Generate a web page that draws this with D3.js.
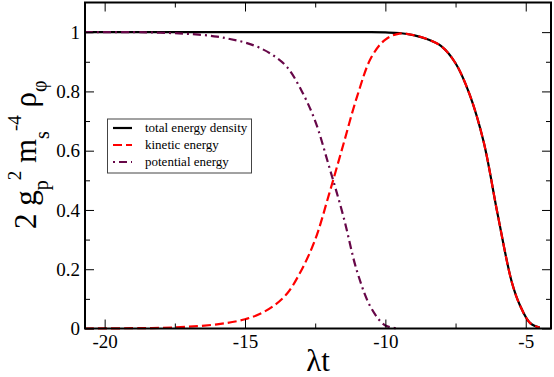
<!DOCTYPE html>
<html><head><meta charset="utf-8">
<script src="https://cdn.jsdelivr.net/npm/d3@7"></script>
<style>
body{margin:0;background:#fff}
text, tspan { font-family: "Liberation Serif", "Tinos", "FreeSerif", serif !important; }
</style>
</head><body>
<script>
const xTicks = [-20, -15, -10, -5];
const xMinor = [-17.5, -12.5, -7.5];
const yTicks = [0, 0.2, 0.4, 0.6, 0.8, 1];
const yTickLabels = ["0", "0.2", "0.4", "0.6", "0.8", "1"];
const yMinor = [0.1, 0.3, 0.5, 0.7, 0.9];

const totalX = [-20.7, -20, -18, -16, -14, -12, -10.5, -10, -9.5, -9, -8.5, -8, -7.5, -7, -6.5, -6, -5.5, -5.2, -4.85, -4.5];
const totalY = [1, 1, 1, 1, 1, 1, 1, 0.999, 0.997, 0.99, 0.976, 0.952, 0.895, 0.79, 0.63, 0.385, 0.158, 0.077, 0.019, 0.003];

const kinX = [-20.7, -19, -18, -17, -16, -15.5, -15, -14.5, -14, -13.5, -13, -12.5, -12, -11.5, -11, -10.5, -10, -9.5, -9, -8.5, -8, -7.5, -7, -6.5, -6, -5.5, -5.2, -4.85, -4.5];
const kinY = [0, 0.001, 0.002, 0.006, 0.014, 0.021, 0.031, 0.048, 0.075, 0.118, 0.195, 0.3, 0.455, 0.62, 0.785, 0.915, 0.975, 0.995, 0.99, 0.976, 0.952, 0.895, 0.79, 0.63, 0.385, 0.158, 0.077, 0.019, 0.003];

const potX = [-20.7, -19, -18, -17, -16, -15.5, -15, -14.5, -14, -13.5, -13, -12.5, -12, -11.5, -11, -10.5, -10, -9.5];
const potY = [1, 1, 0.998, 0.994, 0.985, 0.976, 0.965, 0.948, 0.922, 0.882, 0.805, 0.7, 0.545, 0.38, 0.19, 0.068, 0.01, 0];

const seriesNames = ["total energy density", "kinetic energy", "potential energy"];
const seriesColors = ["#000000", "#ff0000", "#670748"];

const W = 554, H = 377;
const serif = '"Liberation Serif"';
const svg = d3.select("body").append("svg").attr("width", W).attr("height", H)
  .style("font-family", serif);
const x = d3.scaleLinear().domain([-20.7, -4.1]).range([85, 551]);
const y = d3.scaleLinear().domain([0, 1.1]).range([328.5, 2.5]);

const line = d3.line().x(d => x(d[0])).y(d => y(d[1])).curve(d3.curveCatmullRom.alpha(0.5));
const zip = (a, b) => a.map((v, i) => [v, b[i]]);

const g = svg.append("g");
g.append("path").datum(zip(totalX, totalY)).attr("d", line)
  .attr("fill", "none").attr("stroke", seriesColors[0]).attr("stroke-width", 2.2);
g.append("path").datum(zip(kinX, kinY)).attr("d", line)
  .attr("fill", "none").attr("stroke", seriesColors[1]).attr("stroke-width", 2.2)
  .attr("stroke-dasharray", "9,4");
g.append("path").datum(zip(potX, potY)).attr("d", line)
  .attr("fill", "none").attr("stroke", seriesColors[2]).attr("stroke-width", 2.2)
  .attr("stroke-dasharray", "8,4,2,4");

// axes (ticks inward on all four sides)
const axB = d3.axisBottom(x).tickValues(xTicks).tickSize(-9).tickFormat(d => String(d));
const axT = d3.axisTop(x).tickValues(xTicks).tickSize(-9).tickFormat("");
const axL = d3.axisLeft(y).tickValues(yTicks).tickSize(-9).tickFormat((d, i) => yTickLabels[i]);
const axR = d3.axisRight(y).tickValues(yTicks).tickSize(-9).tickFormat("");
const mB = d3.axisBottom(x).tickValues(xMinor).tickSize(-5).tickFormat("");
const mT = d3.axisTop(x).tickValues(xMinor).tickSize(-5).tickFormat("");
const mL = d3.axisLeft(y).tickValues(yMinor).tickSize(-5).tickFormat("");
const mR = d3.axisRight(y).tickValues(yMinor).tickSize(-5).tickFormat("");

function place(ax, tr) {
  const a = svg.append("g").attr("transform", tr).call(ax);
  a.attr("font-family", serif).attr("font-size", 19);
  a.select(".domain").remove();
  a.selectAll(".tick line").attr("stroke", "#000").attr("stroke-width", 1);
  a.selectAll("text").style("font-family", serif).style("font-size", "19px").attr("fill", "#000");
  return a;
}
const b = place(axB, `translate(0,${y(0)})`);
b.selectAll("text").attr("dy", null).attr("y", 19.5);
place(axT, `translate(0,${y(1.1)})`);
const l = place(axL, `translate(${x(-20.7)},0)`);
l.selectAll("text").attr("x", -5).attr("dy", "0.33em");
place(axR, `translate(${x(-4.1)},0)`);
place(mB, `translate(0,${y(0)})`);
place(mT, `translate(0,${y(1.1)})`);
place(mL, `translate(${x(-20.7)},0)`);
place(mR, `translate(${x(-4.1)},0)`);

svg.append("rect").attr("x", x(-20.7)).attr("y", y(1.1))
  .attr("width", x(-4.1) - x(-20.7)).attr("height", y(0) - y(1.1))
  .attr("fill", "none").attr("stroke", "#000").attr("stroke-width", 2);

// legend
const lg = svg.append("g");
lg.append("rect").attr("x", 107.5).attr("y", 119).attr("width", 144).attr("height", 54)
  .attr("fill", "#fff").attr("stroke", "#444").attr("stroke-width", 1);
const dashes = [null, "9,4", "2,4,8,4"];
seriesNames.forEach((n, i) => {
  const yy = 128 + i * 17;
  lg.append("line").attr("x1", 113).attr("x2", 132).attr("y1", yy).attr("y2", yy)
    .attr("stroke", seriesColors[i]).attr("stroke-width", 2.2)
    .attr("stroke-dasharray", dashes[i]);
  lg.append("text").attr("x", 145).attr("y", yy + 4).text(n)
    .style("font-family", serif).style("font-size", "13px").attr("fill", "#000");
});

// x label
svg.append("text").attr("x", 318).attr("y", 371).attr("text-anchor", "middle")
  .style("font-family", serif).style("font-size", "31px").text("λt");

// y label
const yl = svg.append("text").attr("transform", "translate(36,229) rotate(-90)")
  .style("font-family", serif).style("font-size", "31px").attr("fill", "#000");
yl.append("tspan").text("2 g");
yl.append("tspan").style("font-size", "20px").attr("dy", 12).text("p");
yl.append("tspan").style("font-size", "19px").attr("dy", -27).text("2");
yl.append("tspan").attr("dy", 15).text(" m");
yl.append("tspan").style("font-size", "20px").attr("dy", 13).text("s");
yl.append("tspan").style("font-size", "19px").attr("dy", -28).text("-4");
yl.append("tspan").attr("dy", 15).text(" ρ");
yl.append("tspan").style("font-size", "20px").attr("dy", 10).text("φ");
</script>
</body></html>
